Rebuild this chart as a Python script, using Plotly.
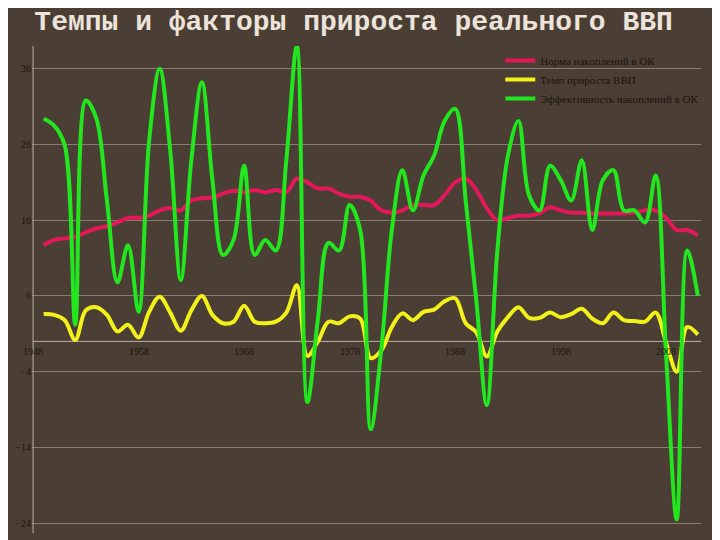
import plotly.graph_objects as go

years = list(range(1949, 2012))
gdp_growth = [3.6, 3.5, 2.8, 0.2, 4.1, 4.5, 3.5, 1.3, 2.2, 0.5, 3.9, 5.9, 3.8, 1.4, 4.1, 6.0,
              3.5, 2.4, 2.6, 4.7, 2.6, 2.4, 2.6, 3.8, 7.4, -1.9, 0.0, 2.6, 2.4, 3.3, 3.0,
              -2.2, -1.2, 1.9, 3.7, 2.8, 3.9, 4.2, 5.3, 5.7, 2.4, 1.2, -2.0, 1.3, 3.2, 4.5,
              3.1, 3.1, 3.8, 3.2, 3.6, 4.3, 3.0, 2.4, 3.8, 2.8, 2.7, 2.6, 3.8, -0.2, -4.0, 1.9, 0.9]
acc_rate = [12.7, 13.4, 13.6, 13.8, 14.4, 14.9, 15.2, 15.7, 16.3, 16.3, 16.6, 17.3, 17.6, 17.3,
            18.6, 18.9, 19.0, 19.5, 19.9, 19.7, 20.0, 19.7, 20.0, 19.7, 21.5, 21.0, 20.2, 20.2,
            19.5, 19.1, 19.1, 18.6, 17.3, 17.0, 17.3, 18.0, 18.0, 18.0, 19.3, 21.0, 21.5, 20.0,
            17.6, 16.0, 16.3, 16.6, 16.6, 16.9, 17.7, 17.3, 17.0, 17.0, 16.9, 16.9, 16.9, 16.9,
            17.0, 17.3, 17.3, 16.3, 14.7, 14.7, 14.0]
acc_eff = [29.4, 28.5, 25.9, 2.2, 31.8, 29.4, 18.6, 7.8, 12.7, 3.9, 26.5, 36.0, 25.2, 8.1,
           23.9, 34.2, 21.3, 11.4, 13.4, 23.2, 11.4, 13.4, 12.0, 23.9, 39.0, -8.0, 3.0, 13.0,
           12.0, 18.0, 14.7, -11.6, -1.1, 14.7, 22.6, 17.3, 21.9, 24.5, 29.1, 30.7, 18.6, 5.5,
           -8.4, 12.0, 24.5, 29.1, 19.3, 17.3, 23.2, 21.3, 18.6, 23.9, 14.7, 21.3, 22.6, 17.3,
           17.3, 15.7, 21.9, -2.0, -23.5, 12.0, 6.0]
tick_years = [1948, 1958, 1968, 1978, 1988, 1998, 2008]
y_ticks = [36, 26, 16, 6, -4, -14, -24]

fig = go.Figure()
fig.add_trace(go.Scatter(x=years, y=acc_rate, mode="lines", name="Норма накоплений в ОК",
                         line=dict(color="#e3185a", width=4, shape="spline")))
fig.add_trace(go.Scatter(x=years, y=gdp_growth, mode="lines", name="Темп прироста ВВП",
                         line=dict(color="#f2f21a", width=4, shape="spline")))
fig.add_trace(go.Scatter(x=years, y=acc_eff, mode="lines", name="Эффективность накоплений в ОК",
                         line=dict(color="#22e61e", width=4, shape="spline")))

for t in tick_years:
    fig.add_annotation(x=t, y=0, text=str(t), showarrow=False, yanchor="top", yshift=-3,
                       font=dict(family="Liberation Serif", size=10, color="#1a1410"))

fig.update_layout(
    width=720, height=540,
    paper_bgcolor="#4b3e34", plot_bgcolor="rgba(0,0,0,0)",
    margin=dict(l=24, r=27, t=38, b=15, autoexpand=False),
    title=dict(text="<b>Темпы и факторы прироста реального ВВП</b>", x=0.48, y=0.995, yanchor="top",
               font=dict(family="Liberation Mono", size=28, color="#ece4da")),
    xaxis=dict(range=[1947.9, 2011.3], showticklabels=False, showgrid=False, zeroline=False,
               showline=False, automargin=False),
    yaxis=dict(range=[-25.3, 39], tickvals=y_ticks, showgrid=True, gridcolor="rgba(210,200,190,0.45)",
               gridwidth=1, zeroline=False, showline=False, ticks="", automargin=False,
               tickfont=dict(family="Liberation Serif", size=10, color="#1a1410")),
    shapes=[dict(type="line", xref="x", yref="paper", x0=1948, x1=1948, y0=0, y1=1,
                 line=dict(color="#bdb2a8", width=1)),
            dict(type="line", xref="x", yref="y", x0=1948, x1=2011.3, y0=0, y1=0,
                 line=dict(color="#bdb2a8", width=1), layer="below")],
    legend=dict(x=0.7, y=1.0, xanchor="left", yanchor="top", bgcolor="rgba(0,0,0,0)",
                tracegroupgap=10, itemwidth=30,
                font=dict(family="Liberation Serif", size=11, color="#1a1410")),
    showlegend=True,
)
fig.write_html("out.html")
